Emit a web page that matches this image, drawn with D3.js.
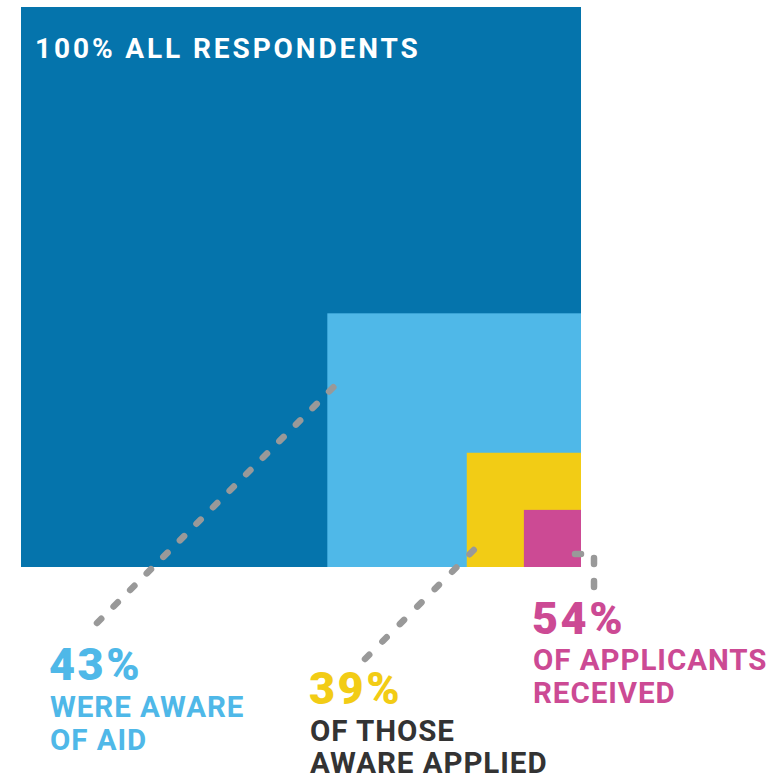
<!DOCTYPE html>
<html><head><meta charset="utf-8">
<script src="https://cdn.jsdelivr.net/npm/d3@7"></script>
<style>html,body{margin:0;padding:0;background:#fff;}</style>
</head><body>
<script>
// ---- data ----
const categories = ["All respondents", "Were aware of aid", "Of those aware applied", "Of applicants received"];
const percents = [100, 43, 39, 54];
// side of each nested square as % of the full square, as drawn in the reference
const sideShares = [100, 45.3, 20.4, 10.2];
const percentLabels = ["100%", "43%", "39%", "54%"];
const captionLines = [["ALL RESPONDENTS"], ["WERE AWARE", "OF AID"], ["OF THOSE", "AWARE APPLIED"], ["OF APPLICANTS", "RECEIVED"]];
const colors = ["#0574ac", "#4fb8e8", "#f2cc15", "#cc4a94"];

const W = 781, H = 781;
const svg = d3.select("body").append("svg").attr("width", W).attr("height", H);

const right = 581, bottom = 567;
const size = d3.scaleLinear().domain([0, 100]).range([0, 560]);

const sq = sideShares.map((s, i) => ({
  x: right - size(s), y: bottom - size(s), w: size(s), color: colors[i], i
}));

svg.selectAll("rect.sq").data(sq).join("rect").attr("class", "sq")
  .attr("x", d => d.x).attr("y", d => d.y)
  .attr("width", d => d.w).attr("height", d => d.w)
  .attr("fill", d => d.color);

// title inside big square
svg.append("text").attr("x", sq[0].x + 14).attr("y", sq[0].y + 51)
  .attr("fill", "#fff").attr("font-family", "Roboto").attr("font-weight", 700)
  .attr("font-size", 28).attr("letter-spacing", 2.9)
  .text(percentLabels[0] + " " + captionLines[0][0]);

// leader lines
const leaders = [
  {pts: [[sq[1].x + 6, sq[1].y + 74], [97, 623]], n: 15},
  {pts: [[sq[2].x + 7, bottom - 17], [365, 659]], n: 7},
  {pts: [[right - 6, bottom - 13], [594, bottom - 13], [594, 587]], n: 3}
];
const dash = 6;
leaders.forEach(L => {
  const p = svg.append("path").attr("d", d3.line()(L.pts))
    .attr("fill", "none").attr("stroke", "#999")
    .attr("stroke-width", 6.5).attr("stroke-linecap", "round");
  const len = p.node().getTotalLength();
  const period = (len - dash) / (L.n - 1);
  p.attr("stroke-dasharray", dash + "," + (period - dash));
});

// labels
const labelPos = [null,
  {x: 50, y: 680, textColor: colors[1]},
  {x: 310, y: 704, textColor: "#333333"},
  {x: 533, y: 634, textColor: colors[3]}];
const gap = [0, [37, 33], [37, 32], [36, 33]];

for (let i = 1; i < 4; i++) {
  const lp = labelPos[i];
  svg.append("text").attr("x", lp.x - 1).attr("y", lp.y)
    .attr("fill", colors[i]).attr("font-family", "Roboto").attr("font-weight", 900)
    .attr("font-size", 45).attr("letter-spacing", 2.5)
    .text(percentLabels[i]);
  let y = lp.y;
  captionLines[i].forEach((t, j) => {
    y += gap[i][j];
    svg.append("text").attr("x", lp.x).attr("y", y)
      .attr("fill", lp.textColor).attr("font-family", "Roboto").attr("font-weight", 700)
      .attr("font-size", 29.5).attr("letter-spacing", 0.95)
      .text(t);
  });
}
</script>
</body></html>
